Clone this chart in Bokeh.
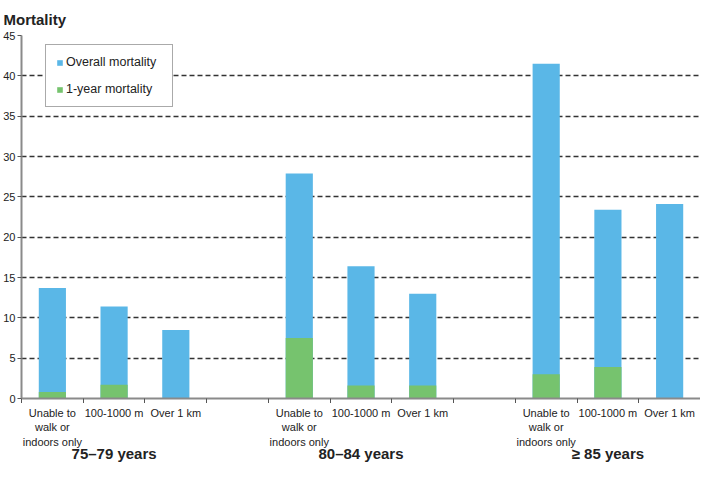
from bokeh.plotting import figure
from bokeh.layouts import column
from bokeh.models import FixedTicker, LinearAxis, Range1d, Legend, LegendItem, ColumnDataSource, Grid
from bokeh.embed import file_html
from bokeh.resources import INLINE

groups = ["75–79 years", "80–84 years", "≥ 85 years"]
walking = ["Unable to\nwalk or\nindoors only", "100-1000 m", "Over 1 km"]
overall = [13.7, 11.4, 8.5, 27.9, 16.4, 13.0, 41.5, 23.4, 24.1]
one_year = [0.8, 1.7, 0.0, 7.5, 1.6, 1.6, 3.0, 3.9, 0.0]
y_ticks = [0, 5, 10, 15, 20, 25, 30, 35, 40, 45]

FONT = "Liberation Sans"
BLUE = "#5AB7E7"
GREEN = "#76C36E"
TXT = "#222222"

P_H = 403          # main plot height
STRIP_H = 462 - P_H  # label strip height
CAT_OFF = 3        # px from strip top to category labels
GROUP_OFF = 50     # px from strip top to group label centres

xs = []
for g in range(len(groups)):
    for i in range(len(walking)):
        xs.append(g * 4 + i + 0.5)
src = ColumnDataSource(dict(x=xs, overall=overall, one=one_year))

p = figure(width=700, height=P_H, output_backend="svg", toolbar_location=None,
           x_range=Range1d(0, 11), y_range=Range1d(0, 45),
           x_axis_type=None, y_axis_type=None,
           min_border_left=0, min_border_right=0, min_border_top=0, min_border_bottom=0)
p.outline_line_color = None
p.title.text = "Mortality"
p.title.text_font = FONT
p.title.text_font_size = "15px"
p.title.text_font_style = "bold"
p.title.text_color = TXT
p.title.offset = -18
p.title.standoff = 16

r1 = p.vbar(x="x", top="overall", width=0.44, source=src, color=BLUE, line_color=None)
r2 = p.vbar(x="x", top="one", width=0.44, source=src, color=GREEN, line_color=None)


def make_yaxis(ticks, overrides=None, visible=True):
    ax = LinearAxis(ticker=FixedTicker(ticks=ticks, minor_ticks=[]))
    ax.axis_line_color = "#8a8a8a"
    ax.axis_line_width = 2
    ax.major_tick_line_color = "#555555"
    ax.major_tick_out = 4
    ax.major_tick_in = 0
    ax.major_label_text_font = FONT
    ax.major_label_text_font_size = "11px"
    ax.major_label_text_color = TXT
    ax.major_label_standoff = 2
    if overrides:
        ax.major_label_overrides = overrides
    if not visible:
        ax.axis_line_alpha = 0
        ax.major_tick_line_alpha = 0
        ax.major_label_text_alpha = 0
    return ax


yax = make_yaxis(y_ticks)
p.add_layout(yax, "left")

# x axis line with boundary ticks only
xax = LinearAxis(ticker=FixedTicker(ticks=[], minor_ticks=list(range(0, 12))))
xax.axis_line_color = "#8a8a8a"
xax.axis_line_width = 2
xax.minor_tick_line_color = "#555555"
xax.minor_tick_out = 5
xax.minor_tick_in = 0
xax.major_label_standoff = 0
p.add_layout(xax, "below")

grid = Grid(dimension=1, ticker=yax.ticker)
grid.grid_line_color = "#333333"
grid.grid_line_dash = "5 3"
grid.grid_line_width = 1.3
p.add_layout(grid)

legend = Legend(items=[LegendItem(label="Overall mortality", renderers=[r1]),
                       LegendItem(label="1-year mortality", renderers=[r2])])
legend.label_text_font = FONT
legend.label_text_font_size = "12.5px"
legend.label_text_color = TXT
legend.glyph_width = 7
legend.glyph_height = 7
legend.spacing = 13
legend.padding = 10
legend.margin = 0
legend.location = (24, 291)
legend.label_standoff = 3
legend.label_width = 96
legend.border_line_color = "#555555"
legend.border_line_width = 1.5
legend.background_fill_alpha = 1
p.add_layout(legend)

# strip below for category and age-group labels, sharing the x range
p2 = figure(width=700, height=STRIP_H, output_backend="svg", toolbar_location=None,
            x_range=p.x_range, y_range=Range1d(STRIP_H, 0),
            x_axis_type=None, y_axis_type=None,
            min_border_left=0, min_border_right=0, min_border_top=0, min_border_bottom=0)
p2.outline_line_color = None
p2.xgrid.visible = False
p2.ygrid.visible = False
p2.add_layout(make_yaxis([STRIP_H / 2], {STRIP_H / 2: str(max(y_ticks))}, visible=False), "left")

csrc = ColumnDataSource(dict(x=xs, y=[CAT_OFF] * len(xs), t=[walking[k % 3] for k in range(len(xs))]))
p2.text(x="x", y="y", text="t", source=csrc, text_align="center", text_baseline="top",
        text_font={"value": FONT}, text_font_size="11px", text_color=TXT, text_line_height=1.22)

gcenters = [g * 4 + 1.5 for g in range(len(groups))]
gsrc = ColumnDataSource(dict(x=gcenters, y=[GROUP_OFF] * len(groups), t=groups))
p2.text(x="x", y="y", text="t", source=gsrc, text_align="center", text_baseline="middle",
        text_font={"value": FONT}, text_font_size="15px", text_font_style="bold", text_color=TXT)

layout = column(p, p2, spacing=0)
open("out.html", "w").write(file_html(layout, INLINE))
